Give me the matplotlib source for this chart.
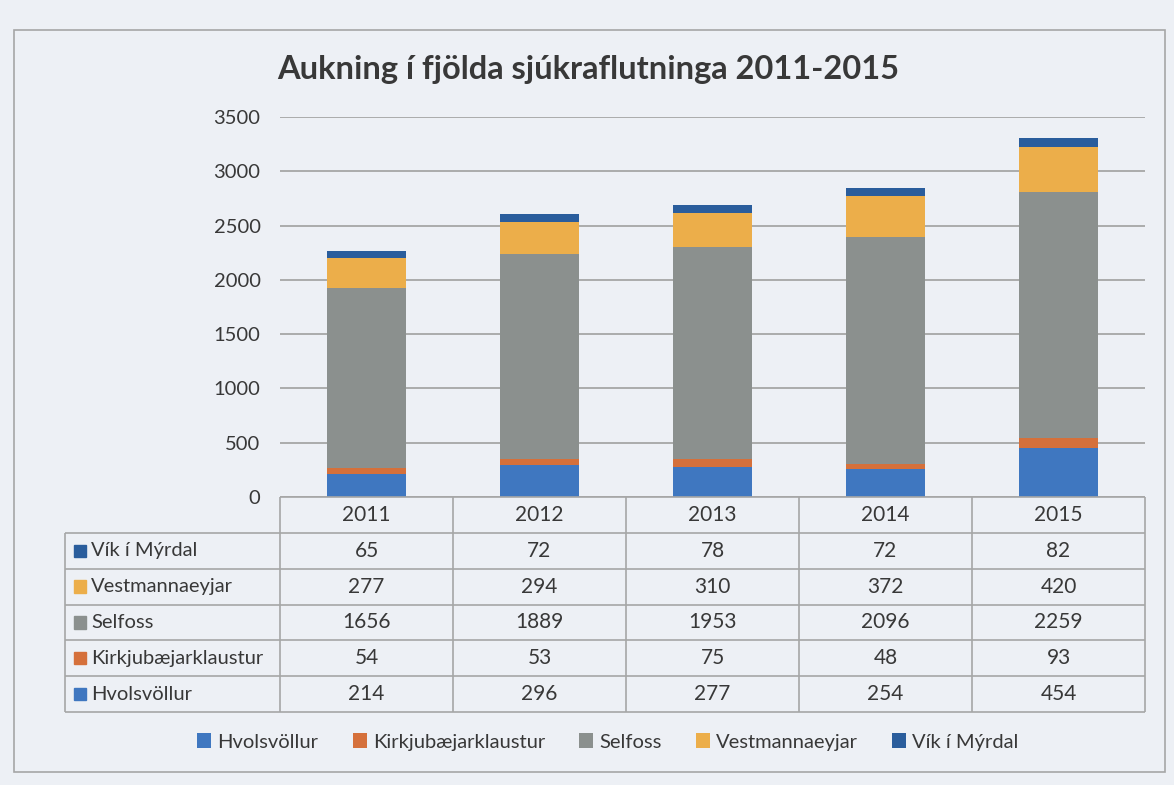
import matplotlib.pyplot as plt
from matplotlib.patches import Patch, Rectangle
import numpy as np

plt.rcParams["font.family"] = ["Lato", "DejaVu Sans"]

years = ["2011", "2012", "2013", "2014", "2015"]
series_names = ["Hvolsvöllur", "Kirkjubæjarklaustur", "Selfoss", "Vestmannaeyjar", "Vík í Mýrdal"]
hvolsvollur = [214, 296, 277, 254, 454]
kirkjubaejarklaustur = [54, 53, 75, 48, 93]
selfoss = [1656, 1889, 1953, 2096, 2259]
vestmannaeyjar = [277, 294, 310, 372, 420]
vik = [65, 72, 78, 72, 82]
yticks = [0, 500, 1000, 1500, 2000, 2500, 3000, 3500]

series = [hvolsvollur, kirkjubaejarklaustur, selfoss, vestmannaeyjar, vik]
colors = ["#3f77c0", "#d5703b", "#8b908e", "#ecae4a", "#2a5d9c"]
text_color = "#383838"
line_color = "#a6a6a6"
bg = "#edf0f5"

W, H = 1174, 785
fx = lambda x: x / W
fy = lambda y: 1 - y / H

fig = plt.figure(figsize=(W / 100, H / 100), dpi=100, facecolor=bg)

# plot area (pixel coords of the reference)
left, right, top, bottom = 280, 1145, 117, 497
ax = fig.add_axes([fx(left), fy(bottom), fx(right) - fx(left), fy(top) - fy(bottom)])
ax.set_facecolor("none")

x = np.arange(len(years))
base = np.zeros(len(years))
for vals, name, c in zip(series, series_names, colors):
    ax.bar(x, vals, bottom=base, width=0.46, color=c, label=name, zorder=3)
    base += np.asarray(vals)

ax.set_xlim(-0.5, len(years) - 0.5)
ax.set_ylim(0, 3500)
ax.set_yticks(yticks)
ax.set_yticklabels([str(t) for t in yticks], fontsize=14.5, color=text_color)
ax.set_xticks([])
ax.tick_params(axis="y", length=0, pad=14)
ax.yaxis.grid(True, color=line_color, linewidth=1.3)
ax.set_axisbelow(True)
for s in ax.spines.values():
    s.set_visible(False)

# data table drawn in its own axes below the plot
tab_left, tab_bottom = 65, 712
tax = fig.add_axes([fx(tab_left), fy(tab_bottom), fx(right) - fx(tab_left), fy(bottom) - fy(tab_bottom)])
tax.axis("off")
label_w = left - tab_left
col_w = (right - left) / len(years)
n_rows = len(series) + 1
tax.set_xlim(0, right - tab_left)
tax.set_ylim(n_rows, 0)

kw = dict(color=line_color, linewidth=1.2, clip_on=False)
tax.hlines(0, label_w, right - tab_left, **kw)
tax.hlines(np.arange(1, n_rows + 1), 0, right - tab_left, **kw)
tax.vlines(0, 1, n_rows, **kw)
tax.vlines(label_w + col_w * np.arange(len(years) + 1), 0, n_rows, **kw)

for j, yr in enumerate(years):
    tax.text(label_w + col_w * (j + 0.5), 0.5, yr, ha="center", va="center",
             fontsize=15, color=text_color)

rows_order = list(range(len(series)))[::-1]
for i, k in enumerate(rows_order, start=1):
    tax.add_patch(Rectangle((9, i + 0.5 - 0.17), 12, 0.34, color=colors[k], clip_on=False))
    tax.text(26, i + 0.5, series_names[k], ha="left", va="center",
             fontsize=14.5, color=text_color)
    for j in range(len(years)):
        tax.text(label_w + col_w * (j + 0.5), i + 0.5, str(series[k][j]),
                 ha="center", va="center", fontsize=15, color=text_color)

fig.text(fx(588), fy(70), "Aukning í fjölda sjúkraflutninga 2011-2015",
         fontsize=23.5, fontweight="bold", ha="center", va="center", color=text_color)

handles = [Patch(facecolor=c, label=n) for n, c in zip(series_names, colors)]
fig.legend(handles=handles, ncol=5, loc="center", bbox_to_anchor=(fx(608), fy(742)),
           frameon=False, fontsize=14.5, handlelength=0.7, handleheight=0.7,
           handletextpad=0.3, columnspacing=1.7, labelcolor=text_color)

fig.add_artist(Rectangle((fx(14), fy(772)), fx(1165) - fx(14), fy(30) - fy(772),
                         transform=fig.transFigure, fill=False,
                         edgecolor=line_color, linewidth=1.2))

plt.savefig("out.png", dpi=100, facecolor=bg)
plt.close()
